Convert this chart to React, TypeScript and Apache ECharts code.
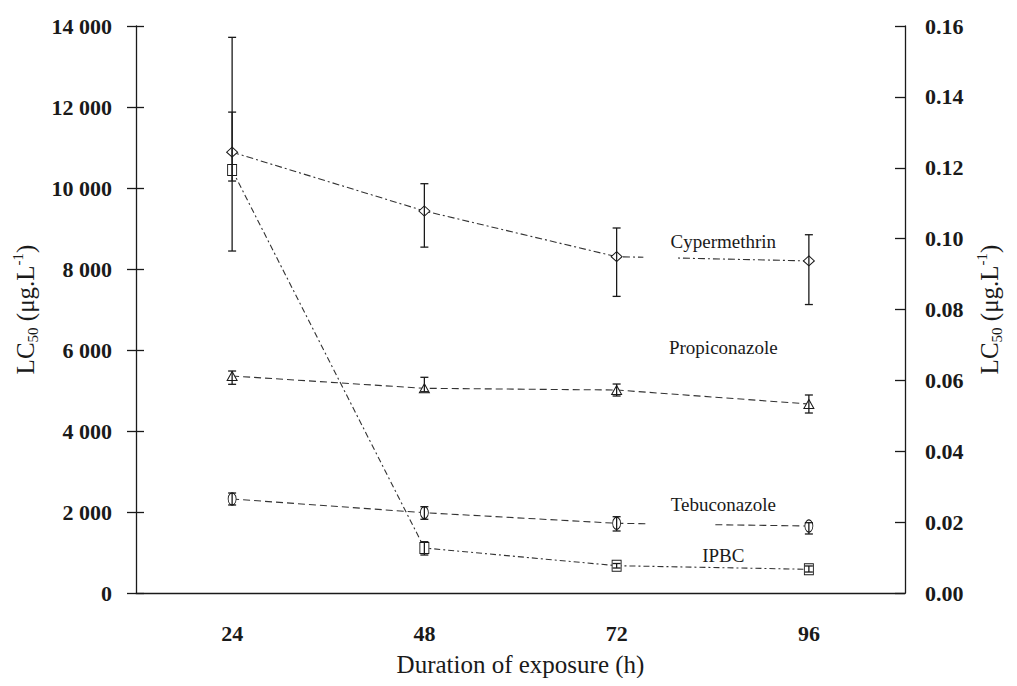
import React, { useEffect, useRef } from "react";
import * as echarts from "echarts";

const hours = ["24", "48", "72", "96"];
const leftTicks = [0, 2000, 4000, 6000, 8000, 10000, 12000, 14000];
const rightTicks = [0, 0.02, 0.04, 0.06, 0.08, 0.1, 0.12, 0.14, 0.16];

// Cypermethrin on the right axis
const cyper = [0.1244, 0.1078, 0.0949, 0.0937];
const cyperLow = [0.0965, 0.0976, 0.0837, 0.0814];
const cyperHigh = [0.1357, 0.1155, 0.103, 0.1011];

// left axis series
const propi = [5358, 5054, 5012, 4666];
const propiLow = [5153, 4970, 4864, 4444];
const propiHigh = [5481, 5326, 5160, 4889];

const tebu = [2321, 1983, 1721, 1654];
const tebuLow = [2173, 1820, 1531, 1457];
const tebuHigh = [2469, 2131, 1884, 1736];

const ipbc = [10445, 1111, 674, 585];
const ipbcLow = [10172, 938, 617, 518];
const ipbcHigh = [13720, 1267, 728, 667];

const FONT = "Liberation Serif";
const INK = "#1a1a1a";

function errSeries(name: string, low: number[], high: number[], yAxisIndex: number) {
  return {
    name: name + " CI",
    type: "custom",
    yAxisIndex,
    z: 5,
    silent: true,
    data: low.map((l, i) => [i, l, high[i]]),
    renderItem: (params: any, api: any) => {
      const x = api.value(0);
      const lo = api.coord([x, api.value(1)]);
      const hi = api.coord([x, api.value(2)]);
      const hw = 4;
      const st = { stroke: INK, lineWidth: 1.3 };
      return {
        type: "group",
        children: [
          { type: "line", shape: { x1: lo[0], y1: lo[1], x2: hi[0], y2: hi[1] }, style: st },
          { type: "line", shape: { x1: lo[0] - hw, y1: lo[1], x2: lo[0] + hw, y2: lo[1] }, style: st },
          { type: "line", shape: { x1: hi[0] - hw, y1: hi[1], x2: hi[0] + hw, y2: hi[1] }, style: st },
        ],
      };
    },
  };
}

function lineSeries(name: string, data: number[], yAxisIndex: number, symbol: string, size: any, dash: number[]) {
  return {
    name,
    type: "line",
    yAxisIndex,
    data,
    z: 3,
    symbol,
    symbolSize: size,
    showAllSymbol: true,
    lineStyle: { color: "#333", width: 1.1, type: dash },
    itemStyle: { color: "#fff", borderColor: INK, borderWidth: 1 },
  };
}

const axisNameRich = {
  a: { fontFamily: FONT, fontSize: 25, lineHeight: 30, color: INK },
  sub: { fontFamily: FONT, fontSize: 15, lineHeight: 16, color: INK, verticalAlign: "bottom" },
  sup: { fontFamily: FONT, fontSize: 15, lineHeight: 16, color: INK, verticalAlign: "top" },
};
const axisNameText = "{a|LC}{sub|50}{a| (μg.L}{sup|-1}{a|)}";

const tickLabel = { fontFamily: FONT, fontWeight: "bold", fontSize: 22, color: INK };

export default function App() {
  const ref = useRef<HTMLDivElement>(null);
  useEffect(() => {
    if (!ref.current) return;
    const chart = echarts.init(ref.current, null, { renderer: "svg" });
    const option: any = {
      animation: false,
      backgroundColor: "#fff",
      grid: { left: 136, right: 112, top: 26, bottom: 93 },
      xAxis: {
        type: "category",
        data: hours,
        boundaryGap: true,
        name: "Duration of exposure (h)",
        nameLocation: "middle",
        nameGap: 59,
        nameTextStyle: { fontFamily: FONT, fontSize: 25, color: INK },
        axisLine: { lineStyle: { color: INK, width: 1.3 } },
        axisTick: { length: 9, lineStyle: { color: INK, width: 1.3 } },
        axisLabel: { margin: 29, ...tickLabel },
        splitLine: { show: false },
      },
      yAxis: [
        {
          type: "value",
          min: 0,
          max: 14000,
          interval: 2000,
          name: axisNameText,
          nameLocation: "middle",
          nameRotate: 90,
          nameGap: 93,
          nameTextStyle: { rich: axisNameRich },
          axisLine: { show: true, lineStyle: { color: INK, width: 1.3 } },
          axisTick: { show: true, length: 9, lineStyle: { color: INK, width: 1.3 } },
          axisLabel: {
            margin: 24,
            ...tickLabel,
            formatter: (v: number) => (v === 0 ? "0" : v / 1000 + " 000"),
          },
          splitLine: { show: false },
        },
        {
          type: "value",
          min: 0,
          max: 0.16,
          interval: 0.02,
          position: "right",
          name: axisNameText,
          nameLocation: "middle",
          nameRotate: 90,
          nameGap: 67,
          nameTextStyle: { rich: axisNameRich },
          axisLine: { show: true, lineStyle: { color: INK, width: 1.3 } },
          axisTick: { show: true, inside: true, length: 10, lineStyle: { color: INK, width: 1.3 } },
          axisLabel: {
            margin: 20,
            ...tickLabel,
            formatter: (v: number) => v.toFixed(2),
          },
          splitLine: { show: false },
        },
        {
          // inner half of the crossing ticks on the left axis
          type: "value",
          min: 0,
          max: 14000,
          interval: 2000,
          position: "left",
          axisLine: { show: false },
          axisTick: { show: true, inside: true, length: 8, lineStyle: { color: INK, width: 1.3 } },
          axisLabel: { show: false },
          splitLine: { show: false },
        },
      ],
      series: [
        lineSeries("Cypermethrin", cyper, 1, "diamond", [11, 10], [7, 3, 2, 3]),
        lineSeries("Propiconazole", propi, 0, "triangle", [10, 9], [7, 4]),
        lineSeries("Tebuconazole", tebu, 0, "circle", [8, 12], [7, 4]),
        lineSeries("IPBC", ipbc, 0, "rect", [9, 11], [6, 3, 2, 3]),
        errSeries("Cypermethrin", cyperLow, cyperHigh, 1),
        errSeries("Propiconazole", propiLow, propiHigh, 0),
        errSeries("Tebuconazole", tebuLow, tebuHigh, 0),
        errSeries("IPBC", ipbcLow, ipbcHigh, 0),
      ],
    };
    chart.setOption(option);

    const px = (f: number, v: number, yi: number) => {
      const i0 = Math.min(Math.floor(f), hours.length - 2);
      const t = f - i0;
      const a = chart.convertToPixel({ xAxisIndex: 0, yAxisIndex: yi }, [i0, v]) as number[];
      const b = chart.convertToPixel({ xAxisIndex: 0, yAxisIndex: yi }, [i0 + 1, v]) as number[];
      return [a[0] + (b[0] - a[0]) * t, a[1]];
    };
    const labels = [
      { text: "Cypermethrin", f: 2.555, v: 0.0991, yi: 1 },
      { text: "Propiconazole", f: 2.555, v: 6074, yi: 0 },
      { text: "Tebuconazole", f: 2.555, v: 2197, yi: 0 },
      { text: "IPBC", f: 2.555, v: 938, yi: 0 },
    ];
    const gaps = [
      { f0: 2.139, f1: 2.316, v: 0.0945, yi: 1 },
      { f0: 2.16, f1: 2.497, v: 1679, yi: 0 },
    ];
    const graphics: any[] = [];
    gaps.forEach((g) => {
      const p0 = px(g.f0, g.v, g.yi);
      const p1 = px(g.f1, g.v, g.yi);
      graphics.push({
        type: "rect",
        z: 4,
        shape: { x: p0[0], y: p0[1] - 4, width: p1[0] - p0[0], height: 8 },
        style: { fill: "#fff" },
      });
    });
    labels.forEach((l) => {
      const p = px(l.f, l.v, l.yi);
      graphics.push({
        type: "text",
        z: 6,
        x: p[0],
        y: p[1],
        style: {
          text: l.text,
          fontFamily: FONT,
          fontSize: 19,
          fill: INK,
          align: "center",
          verticalAlign: "middle",
        },
      });
    });
    chart.setOption({ graphic: graphics });

    return () => chart.dispose();
  }, []);
  return <div ref={ref} style={{ width: 1017, height: 686, margin: -8 }} />;
}
